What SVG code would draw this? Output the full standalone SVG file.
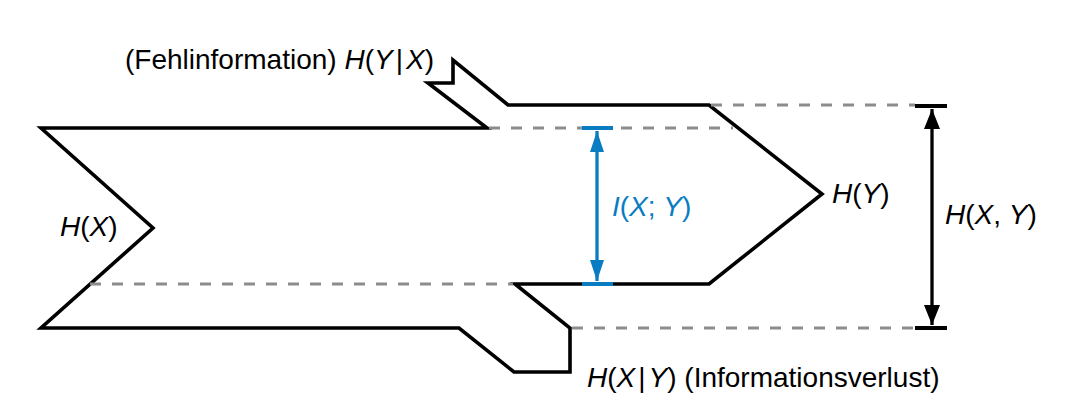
<svg xmlns="http://www.w3.org/2000/svg" width="1070" height="408" viewBox="0 0 1070 408">
<style>
.outline{fill:none;stroke:#000;stroke-width:3.6;stroke-linejoin:miter}
.dash{fill:none;stroke:#8c8c8c;stroke-width:3;stroke-dasharray:11 11}
.t{font-family:"Liberation Sans",Arial,sans-serif;font-size:28px;fill:#000}
.i{font-style:italic}
.blue{fill:#0a7cc2}
</style>
<defs>
<marker id="ab" viewBox="0 0 20 16" markerWidth="20" markerHeight="16" refX="20" refY="8" orient="auto-start-reverse" markerUnits="userSpaceOnUse">
<path d="M0,0 L20,8 L0,16 Z" fill="#000"/>
</marker>
<marker id="ablue" viewBox="0 0 21 14" markerWidth="21" markerHeight="14" refX="21" refY="7" orient="auto-start-reverse" markerUnits="userSpaceOnUse">
<path d="M0,0 L21,7 L0,14 Z" fill="#0a7cc2"/>
</marker>
</defs>
<g id="flow">
<path class="outline" d="M41,128 L487,128 L428,83 L453,83 L453,60 L508,105 L709,105 L822,194 L709,284 L515,284 L570,328 L570,372 L514,372 L459,328 L41,328 L153,228 Z"/>
</g>
<g id="connectors">
<path class="dash" d="M489,128 H733"/>
<path class="dash" d="M711,105 H915"/>
<path class="dash" d="M90,284 H513"/>
<path class="dash" d="M572,328 H915"/>
<line x1="597" y1="131" x2="597" y2="281" stroke="#0a7cc2" stroke-width="3.3" marker-start="url(#ablue)" marker-end="url(#ablue)"/>
<line x1="582" y1="128" x2="613" y2="128" stroke="#0a7cc2" stroke-width="4"/>
<line x1="582" y1="284" x2="613" y2="284" stroke="#0a7cc2" stroke-width="4"/>
<line x1="932" y1="109" x2="932" y2="325" stroke="#000" stroke-width="3.3" marker-start="url(#ab)" marker-end="url(#ab)"/>
<line x1="915" y1="106" x2="947" y2="106" stroke="#000" stroke-width="4"/>
<line x1="915" y1="328" x2="947" y2="328" stroke="#000" stroke-width="4"/>
</g>
<g id="label-hx"><text class="t" x="60" y="236"><tspan class="i">H</tspan>(<tspan class="i">X</tspan>)</text></g>
<g id="label-hy"><text class="t" x="832" y="203"><tspan class="i">H</tspan>(<tspan class="i">Y</tspan>)</text></g>
<g id="label-ixy"><text class="t blue" x="612" y="216"><tspan class="i">I</tspan>(<tspan class="i">X</tspan>; <tspan class="i">Y</tspan>)</text></g>
<g id="label-hxy"><text class="t" x="945" y="224"><tspan class="i">H</tspan>(<tspan class="i">X</tspan>, <tspan class="i">Y</tspan>)</text></g>
<g id="label-hyx"><text class="t" x="125" y="69">(Fehlinformation) <tspan class="i">H</tspan>(<tspan class="i">Y</tspan><tspan dx="3">|</tspan><tspan class="i" dx="3">X</tspan>)</text></g>
<g id="label-hxgy"><text class="t" x="587" y="387"><tspan class="i">H</tspan>(<tspan class="i">X</tspan><tspan dx="3">|</tspan><tspan class="i" dx="3">Y</tspan>) (Informationsverlust)</text></g>
</svg>
